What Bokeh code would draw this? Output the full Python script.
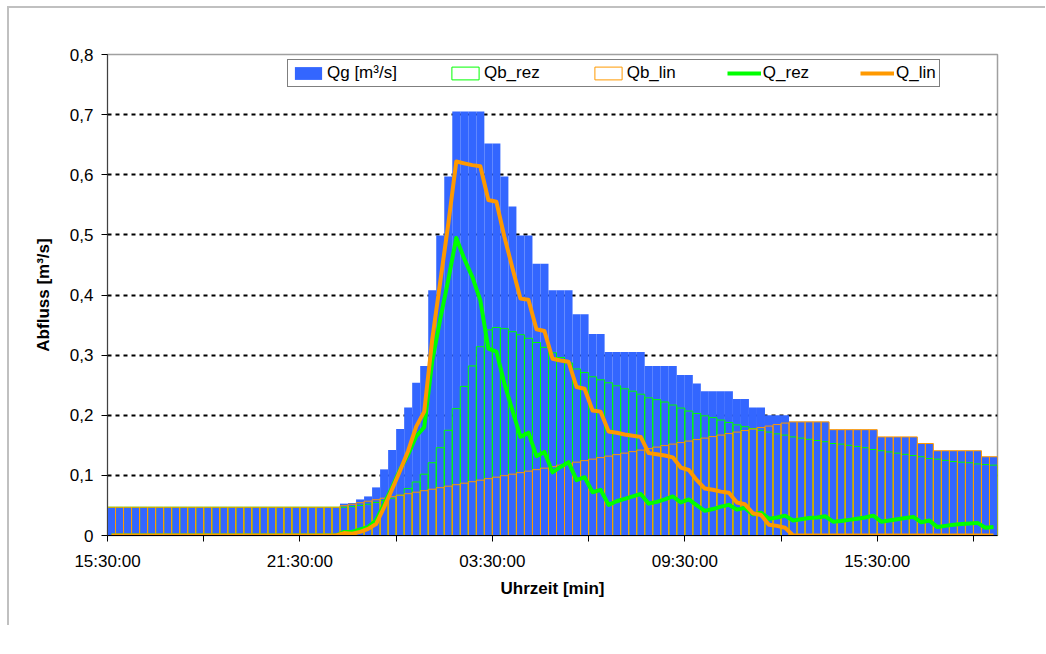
from bokeh.plotting import figure
from bokeh.models import Range1d, FixedTicker, Legend, LegendItem, ColumnDataSource
from bokeh.embed import file_html
from bokeh.resources import INLINE

# ---- data (15-minute time steps starting 15:30:00) ----
step_minutes = 15
n_steps = 111
time_min = [step_minutes * i for i in range(n_steps)]

Qg = [
    0.047, 0.047, 0.047, 0.047, 0.047, 0.047, 0.047, 0.047, 0.047, 0.047, 0.047, 0.047,
    0.047, 0.047, 0.047, 0.047, 0.047, 0.047, 0.047, 0.047, 0.047, 0.047, 0.047, 0.047,
    0.047, 0.047, 0.047, 0.047, 0.047, 0.053, 0.054, 0.060, 0.065, 0.080, 0.110, 0.142,
    0.177, 0.213, 0.254, 0.282, 0.408, 0.499, 0.597, 0.705, 0.705, 0.705, 0.705, 0.652,
    0.652, 0.597, 0.547, 0.499, 0.499, 0.452, 0.452, 0.408, 0.408, 0.408, 0.368, 0.368,
    0.335, 0.335, 0.305, 0.305, 0.305, 0.305, 0.305, 0.282, 0.282, 0.282, 0.282, 0.267,
    0.267, 0.253, 0.240, 0.240, 0.240, 0.240, 0.227, 0.227, 0.213, 0.213, 0.200, 0.200,
    0.200, 0.189, 0.189, 0.189, 0.189, 0.189, 0.176, 0.176, 0.176, 0.176, 0.176, 0.176,
    0.164, 0.164, 0.164, 0.164, 0.164, 0.153, 0.153, 0.141, 0.141, 0.141, 0.141, 0.141,
    0.141, 0.131, 0.131,
]

Qb_rez = [
    0.047, 0.047, 0.047, 0.047, 0.047, 0.047, 0.047, 0.047, 0.047, 0.047, 0.047, 0.047,
    0.047, 0.047, 0.047, 0.047, 0.047, 0.047, 0.047, 0.047, 0.047, 0.047, 0.047, 0.047,
    0.047, 0.047, 0.047, 0.047, 0.047, 0.047, 0.048, 0.050, 0.052, 0.055, 0.058, 0.062,
    0.067, 0.078, 0.089, 0.102, 0.121, 0.146, 0.175, 0.211, 0.248, 0.282, 0.314, 0.342,
    0.346, 0.344, 0.339, 0.334, 0.328, 0.321, 0.313, 0.304, 0.296, 0.287, 0.277, 0.271,
    0.264, 0.259, 0.254, 0.249, 0.244, 0.240, 0.235, 0.229, 0.226, 0.222, 0.217, 0.212,
    0.207, 0.203, 0.199, 0.196, 0.192, 0.188, 0.184, 0.181, 0.178, 0.175, 0.172, 0.169,
    0.167, 0.164, 0.162, 0.160, 0.158, 0.156, 0.153, 0.152, 0.150, 0.148, 0.146, 0.143,
    0.141, 0.139, 0.137, 0.135, 0.133, 0.131, 0.128, 0.127, 0.125, 0.123, 0.122, 0.121,
    0.119, 0.118, 0.117,
]

Qb_lin = [
    0.047, 0.047, 0.047, 0.047, 0.047, 0.047, 0.047, 0.047, 0.047, 0.047, 0.047, 0.047,
    0.047, 0.047, 0.047, 0.047, 0.047, 0.047, 0.047, 0.047, 0.047, 0.047, 0.047, 0.047,
    0.047, 0.047, 0.047, 0.047, 0.047, 0.0495, 0.052, 0.0545, 0.057, 0.0595, 0.062, 0.0645,
    0.067, 0.0695, 0.072, 0.0745, 0.077, 0.0795, 0.082, 0.0845, 0.087, 0.0895, 0.092, 0.0945,
    0.097, 0.0995, 0.102, 0.1045, 0.107, 0.1095, 0.112, 0.1145, 0.117, 0.1195, 0.122, 0.1245,
    0.127, 0.1295, 0.132, 0.1345, 0.137, 0.1395, 0.142, 0.1445, 0.147, 0.1495, 0.152, 0.1545,
    0.157, 0.1595, 0.162, 0.1645, 0.167, 0.1695, 0.172, 0.1745, 0.177, 0.1795, 0.182, 0.1845,
    0.187, 0.189, 0.189, 0.189, 0.189, 0.189, 0.176, 0.176, 0.176, 0.176, 0.176, 0.176,
    0.164, 0.164, 0.164, 0.164, 0.164, 0.153, 0.153, 0.141, 0.141, 0.141, 0.141, 0.141,
    0.141, 0.131, 0.131,
]

Q_rez = [
    0, 0, 0, 0, 0, 0, 0, 0, 0, 0, 0, 0,
    0, 0, 0, 0, 0, 0, 0, 0, 0, 0, 0, 0,
    0, 0, 0, 0, 0, 0.006, 0.006, 0.010, 0.014, 0.025, 0.052, 0.080,
    0.110, 0.135, 0.165, 0.180, 0.290, 0.360, 0.425, 0.495, 0.460, 0.430, 0.391, 0.311,
    0.306, 0.253, 0.208, 0.164, 0.171, 0.132, 0.139, 0.105, 0.114, 0.122, 0.092, 0.097,
    0.072, 0.076, 0.051, 0.057, 0.061, 0.065, 0.069, 0.053, 0.056, 0.060, 0.065, 0.055,
    0.060, 0.050, 0.041, 0.044, 0.048, 0.051, 0.043, 0.046, 0.035, 0.038, 0.028, 0.030,
    0.033, 0.025, 0.027, 0.029, 0.030, 0.032, 0.023, 0.024, 0.026, 0.028, 0.030, 0.033,
    0.023, 0.025, 0.027, 0.029, 0.031, 0.022, 0.025, 0.014, 0.016, 0.018, 0.019, 0.020,
    0.021, 0.013, 0.014,
]

Q_lin = [
    0, 0, 0, 0, 0, 0, 0, 0, 0, 0, 0, 0,
    0, 0, 0, 0, 0, 0, 0, 0, 0, 0, 0, 0,
    0, 0, 0, 0, 0, 0.004, 0.003, 0.006, 0.011, 0.019, 0.047, 0.077,
    0.108, 0.141, 0.181, 0.206, 0.326, 0.422, 0.518, 0.622, 0.619, 0.616, 0.614, 0.558,
    0.555, 0.497, 0.445, 0.394, 0.392, 0.343, 0.340, 0.294, 0.291, 0.289, 0.247, 0.244,
    0.208, 0.206, 0.173, 0.171, 0.168, 0.166, 0.164, 0.137, 0.135, 0.133, 0.130, 0.113,
    0.109, 0.092, 0.078, 0.076, 0.073, 0.071, 0.055, 0.052, 0.037, 0.034, 0.018, 0.016,
    0.013, 0, 0, 0, 0, 0, 0, 0, 0, 0, 0, 0,
    0, 0, 0, 0, 0, 0, 0, 0, 0, 0, 0, 0,
    0, 0, 0,
]

x_tick_positions = [0, 180, 360, 540, 720, 900, 1080, 1260, 1440, 1620]
x_tick_labels = ["15:30:00", "", "21:30:00", "", "03:30:00", "", "09:30:00", "", "15:30:00", ""]
y_tick_positions = [0, 0.1, 0.2, 0.3, 0.4, 0.5, 0.6, 0.7, 0.8]
y_tick_labels = ["0", "0,1", "0,2", "0,3", "0,4", "0,5", "0,6", "0,7", "0,8"]

series_names = ["Qg [m³/s]", "Qb_rez", "Qb_lin", "Q_rez", "Q_lin"]

# ---- build ----
src = ColumnDataSource(dict(
    left=time_min,
    right=[t + step_minutes for t in time_min],
    mid=[t + step_minutes / 2 for t in time_min],
    qg=Qg, qb_rez=Qb_rez, qb_lin=Qb_lin, q_rez=Q_rez, q_lin=Q_lin,
))

FONT = "Liberation Sans"
BLUE = "#3366FF"
GREEN = "#00FF00"
ORANGE = "#FF9900"

p = figure(
    frame_width=890, frame_height=481,
    x_range=Range1d(0, step_minutes * n_steps), y_range=Range1d(0, 0.8),
    output_backend="svg", toolbar_location=None,
    min_border_left=98, min_border_right=48, min_border_top=46, min_border_bottom=90,
)
p.styles = {"border-left": "2px solid #c0c0c0", "border-top": "2px solid #c0c0c0",
            "margin-left": "7px", "margin-top": "6px"}
p.background_fill_color = "white"
p.border_fill_color = "white"
p.outline_line_color = "#a0a0a0"
p.outline_line_width = 1.5

r_qg = p.quad(left="left", right="right", bottom=0, top="qg", source=src,
              fill_color=BLUE, line_color=None)
r_brez = p.quad(left="left", right="right", bottom=0, top="qb_rez", source=src,
                fill_color=None, line_color=GREEN, line_width=1)
r_blin = p.quad(left="left", right="right", bottom=0, top="qb_lin", source=src,
                fill_color=None, line_color=ORANGE, line_width=1)
r_qrez = p.line(x="mid", y="q_rez", source=src, line_color=GREEN, line_width=4,
                line_join="round")
r_qlin = p.line(x="mid", y="q_lin", source=src, line_color=ORANGE, line_width=4,
                line_join="round")

# axes
p.xaxis.ticker = FixedTicker(ticks=x_tick_positions)
p.xaxis.major_label_overrides = dict(zip(x_tick_positions, x_tick_labels))
p.yaxis.ticker = FixedTicker(ticks=y_tick_positions)
p.yaxis.major_label_overrides = dict(zip(y_tick_positions, y_tick_labels))

for ax in (p.xaxis[0], p.yaxis[0]):
    ax.major_tick_out = 6
    ax.major_tick_in = 0
    ax.minor_tick_line_color = None
    ax.major_tick_line_color = "black"
    ax.major_label_text_font = FONT
    ax.major_label_text_font_size = "17px"
    ax.major_label_text_color = "black"
    ax.axis_label_text_font = FONT
    ax.axis_label_text_font_size = "17px"
    ax.axis_label_text_font_style = "bold"
    ax.axis_label_text_color = "black"

p.xaxis.axis_line_color = "black"
p.yaxis.axis_line_color = "#404040"
p.xaxis.axis_label = "Uhrzeit [min]"
p.yaxis.axis_label = "Abfluss [m³/s]"
p.xaxis.major_label_standoff = 10
p.xaxis.axis_label_standoff = 5
p.yaxis.major_label_standoff = 8
p.yaxis.axis_label_standoff = 14

p.xgrid.grid_line_color = None
p.ygrid.grid_line_color = "black"
p.ygrid.grid_line_dash = "4 4"
p.ygrid.grid_line_width = 2

legend = Legend(
    items=[
        LegendItem(label=series_names[0], renderers=[r_qg]),
        LegendItem(label=series_names[1], renderers=[r_brez]),
        LegendItem(label=series_names[2], renderers=[r_blin]),
        LegendItem(label=series_names[3], renderers=[r_qrez]),
        LegendItem(label=series_names[4], renderers=[r_qlin]),
    ],
    orientation="horizontal",
    location=(180, 448),
    padding=3, spacing=51,
    glyph_width=34, glyph_height=16, label_standoff=2, label_height=18,
    label_text_font=FONT, label_text_font_size="17px", label_text_color="black",
    border_line_color="black", border_line_width=1,
    background_fill_color="white", background_fill_alpha=1,
    margin=0,
)
p.add_layout(legend, "center")

open("out.html", "w").write(file_html(p, INLINE))
